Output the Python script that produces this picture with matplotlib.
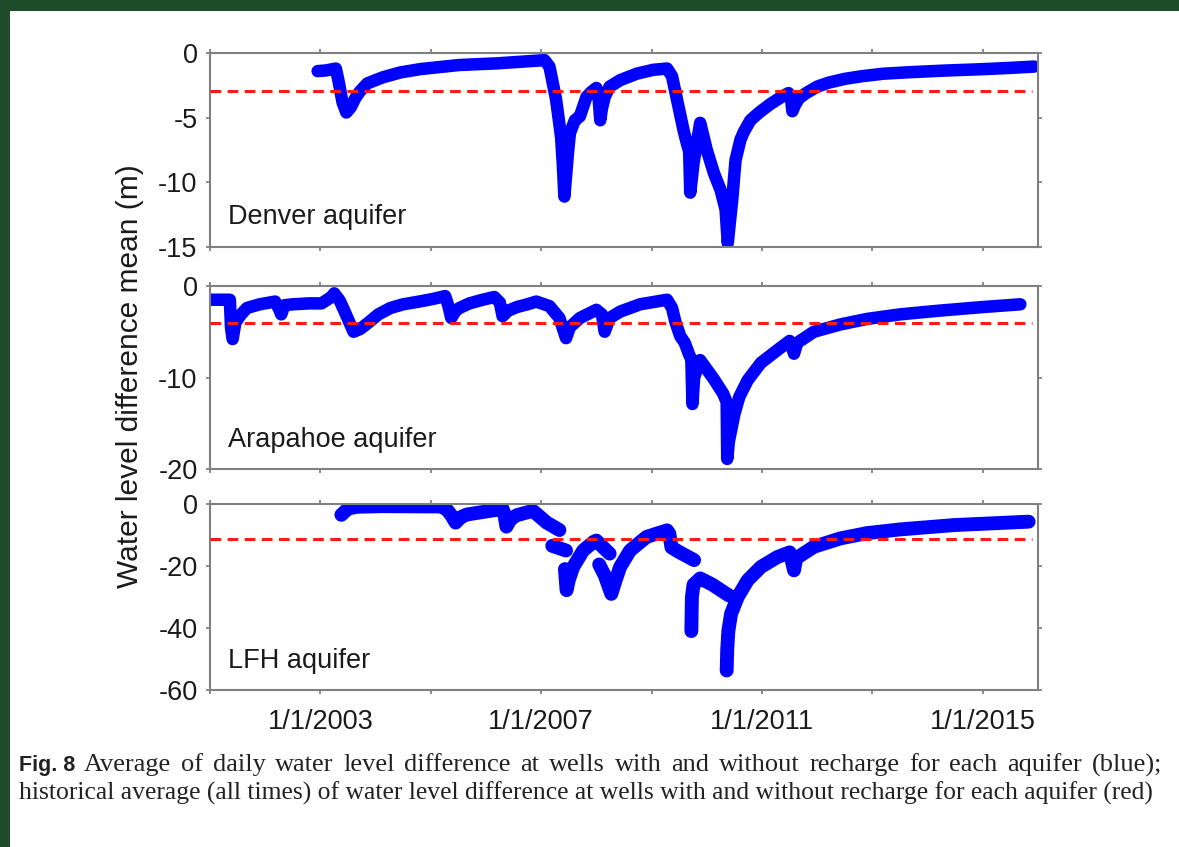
import matplotlib
matplotlib.use("Agg")
import matplotlib.pyplot as plt
import numpy as np
from matplotlib.patches import Rectangle

plt.rcParams["font.family"] = ["Liberation Sans", "DejaVu Sans"]
plt.rcParams["axes.unicode_minus"] = False

# Tiempo en años decimales, valores en metros
denver_t = [2002.95, 2003.1, 2003.28, 2003.33, 2003.4, 2003.47, 2003.55, 2003.63, 2003.71, 2003.85,
            2004.13, 2004.45, 2004.82, 2005.51, 2006.2, 2006.9, 2007.06, 2007.15, 2007.27, 2007.36,
            2007.39, 2007.42, 2007.46, 2007.49, 2007.52, 2007.61, 2007.7, 2007.76, 2007.82, 2007.91,
            2008.0, 2008.04, 2008.07, 2008.1, 2008.15, 2008.24, 2008.43, 2008.73, 2009.03, 2009.28,
            2009.37, 2009.46, 2009.58, 2009.64, 2009.68, 2009.7, 2009.76, 2009.88, 2010.0, 2010.13,
            2010.25, 2010.34, 2010.38, 2010.42, 2010.46, 2010.52, 2010.61, 2010.67, 2010.79, 2010.95,
            2011.15, 2011.37, 2011.48, 2011.52, 2011.55, 2011.6, 2011.67, 2011.8, 2012.0, 2012.2,
            2012.5, 2012.8, 2013.2, 2013.7, 2014.3, 2015.0, 2015.5, 2015.93]
denver_v = [-1.4, -1.35, -1.2, -2.2, -3.8, -4.6, -4.2, -3.5, -3.0, -2.35,
            -1.88, -1.5, -1.24, -0.93, -0.8, -0.6, -0.55, -1.06, -3.6, -6.5,
            -8.5, -11.1, -9.0, -7.5, -6.2, -5.2, -4.9, -4.15, -3.4, -3.0,
            -2.7, -3.5, -5.2, -4.3, -3.4, -2.6, -2.1, -1.6, -1.3, -1.2,
            -1.8, -3.6, -6.0, -7.0, -7.6, -10.8, -8.5, -5.4, -7.5, -9.3,
            -10.6, -12.1, -14.7, -13.0, -11.4, -8.3, -6.7, -6.1, -5.2, -4.6,
            -3.95, -3.35, -3.1, -3.3, -4.5, -4.0, -3.5, -3.1, -2.6, -2.3,
            -2.0, -1.8, -1.6, -1.48, -1.36, -1.25, -1.15, -1.05]
denver_media = -2.9

arapahoe_t = [2001.0, 2001.36, 2001.38, 2001.41, 2001.46, 2001.55, 2001.67, 2001.9, 2002.18, 2002.25,
              2002.29, 2002.35, 2002.5, 2002.8, 2003.02, 2003.2, 2003.25, 2003.35, 2003.44, 2003.6,
              2003.72, 2003.85, 2004.05, 2004.27, 2004.5, 2004.79, 2005.05, 2005.26, 2005.32, 2005.37,
              2005.45, 2005.52, 2005.7, 2005.94, 2006.15, 2006.25, 2006.3, 2006.4, 2006.56, 2006.75,
              2006.91, 2007.15, 2007.33, 2007.45, 2007.52, 2007.7, 2008.0, 2008.1, 2008.15, 2008.24,
              2008.43, 2008.79, 2009.28, 2009.37, 2009.43, 2009.52, 2009.6, 2009.68, 2009.72, 2009.74,
              2009.77, 2009.88, 2010.13, 2010.3, 2010.36, 2010.37, 2010.4, 2010.44, 2010.5, 2010.59,
              2010.74, 2010.98, 2011.28, 2011.5, 2011.55, 2011.58, 2011.64, 2011.94, 2012.42, 2012.9,
              2013.5, 2014.2, 2015.0, 2015.68]
arapahoe_v = [-1.5, -1.5, -4.5, -5.8, -4.0, -3.2, -2.4, -2.0, -1.7, -2.5,
              -3.1, -2.1, -2.0, -1.9, -1.9, -1.2, -0.8, -1.6, -2.8, -5.0,
              -4.7, -4.1, -3.1, -2.4, -2.0, -1.7, -1.4, -1.1, -2.2, -3.5,
              -2.7, -2.4, -1.9, -1.5, -1.2, -1.8, -3.3, -2.7, -2.3, -2.0,
              -1.7, -2.2, -3.5, -5.7, -4.5, -3.5, -2.6, -3.1, -5.0, -3.5,
              -2.8, -2.0, -1.5, -2.4, -3.9, -5.5, -6.2, -7.5, -8.0, -12.9,
              -10.0, -8.1, -10.2, -11.8, -12.7, -18.9, -17.0, -15.8, -14.0, -12.1,
              -10.3, -8.4, -7.0, -6.0, -6.8, -7.4, -6.2, -5.0, -4.2, -3.6,
              -3.1, -2.7, -2.3, -2.0]
arapahoe_media = -4.05

# NaN = hueco entre tramos de datos
lfh_t = [2003.38, 2003.5, 2003.65, 2004.1, 2005.2, 2005.3, 2005.37, 2005.45, 2005.55, 2005.65,
         2006.15, 2006.3, 2006.33, 2006.37, 2006.45, 2006.56, 2006.85, 2007.1, 2007.33, np.nan,
         2007.2, 2007.45, np.nan,
         2007.43, 2007.46, 2007.5, 2007.58, 2007.76, 2007.95, 2008.0, 2008.1, 2008.24, np.nan,
         2008.05, 2008.15, 2008.27, 2008.35, 2008.43, 2008.61, 2008.91, 2009.28, 2009.32, 2009.36,
         2009.5, 2009.77, np.nan,
         2009.72, 2009.73, 2009.76, 2009.88, 2010.1, 2010.4, np.nan,
         2010.36, 2010.37, 2010.39, 2010.44, 2010.56, 2010.74, 2010.98, 2011.28, 2011.5, 2011.55,
         2011.58, 2011.62, 2011.94, 2012.42, 2012.9, 2013.5, 2014.48, 2015.83]
lfh_v = [-3.5, -1.5, -0.9, -0.7, -0.8, -2.0, -3.6, -6.0, -4.2, -3.4,
         -2.0, -1.5, -3.0, -7.3, -4.8, -3.6, -2.2, -6.0, -8.4, np.nan,
         -13.5, -15.0, np.nan,
         -21.0, -27.8, -24.5, -20.3, -15.0, -12.2, -11.8, -13.6, -16.0, np.nan,
         -19.5, -23.0, -29.0, -24.5, -20.3, -15.0, -10.6, -8.5, -9.5, -14.0,
         -15.5, -18.1, np.nan,
         -41.0, -30.0, -26.0, -24.0, -26.0, -29.5, np.nan,
         -53.7, -47.0, -41.0, -35.4, -30.0, -24.6, -20.3, -17.1, -15.6, -19.0,
         -21.4, -17.5, -13.8, -11.1, -9.4, -8.2, -6.8, -5.7]
lfh_media = -11.4

media_t = [2001.0, 2015.9]

paneles = ["Denver aquifer", "Arapahoe aquifer", "LFH aquifer"]
y_limites = [(-15, 0), (-20, 0), (-60, 0)]
y_ticks = [[0, -5, -10, -15], [0, -10, -20], [0, -20, -40, -60]]

x_ticks = [2001, 2003, 2005, 2007, 2009, 2011, 2013, 2015]
x_etiquetas = ["", "1/1/2003", "", "1/1/2007", "", "1/1/2011", "", "1/1/2015"]

etiqueta_y = "Water level difference mean (m)"
pie_fig = "Fig. 8"
pie_1 = "Average of daily water level difference at wells with and without recharge for each aquifer (blue);"
pie_2 = "historical average (all times) of water level difference at wells with and without recharge for each aquifer (red)"

W, H = 1179, 847


def ajustar_ancho(fig, txt, ancho_px):
    """Escala el tamaño de letra para que el texto ocupe ancho_px."""
    r = fig.canvas.get_renderer()
    w = txt.get_window_extent(r).width
    txt.set_fontsize(txt.get_fontsize() * ancho_px / w)
    return txt.get_fontsize()


def texto_justificado(fig, texto, x0, x1, y, **kw):
    """Reparte las palabras entre x0 y x1 (píxeles)."""
    palabras = texto.split()
    objs = [fig.text(0, y, p, ha="left", va="center", **kw) for p in palabras]
    r = fig.canvas.get_renderer()
    anchos = [o.get_window_extent(r).width for o in objs]
    hueco = (x1 - x0 - sum(anchos)) / (len(palabras) - 1)
    x = x0
    for o, a in zip(objs, anchos):
        o.set_x(x / W)
        x += a + hueco


fig = plt.figure(figsize=(W / 100, H / 100), dpi=100)
fig.patch.set_facecolor("white")

# marco verde
verde = "#1e4b2a"
fig.patches.append(Rectangle((0, 1 - 11 / H), 1, 11 / H, transform=fig.transFigure,
                             facecolor=verde, edgecolor="none", zorder=0))
fig.patches.append(Rectangle((0, 0), 10 / W, 1, transform=fig.transFigure,
                             facecolor=verde, edgecolor="none", zorder=0))

# (arriba, abajo) de cada panel en píxeles
cajas = [(53, 247), (286, 469), (504, 690)]
izq, der = 210, 1038

series = [(denver_t, denver_v, denver_media, 9),
          (arapahoe_t, arapahoe_v, arapahoe_media, 9),
          (lfh_t, lfh_v, lfh_media, 10)]

for i, ((t, v, media, lw), (top, bot)) in enumerate(zip(series, cajas)):
    ax = fig.add_axes([izq / W, 1 - bot / H, (der - izq) / W, (bot - top) / H])
    ax.plot(t, v, color="#0000ff", lw=lw, solid_capstyle="round", solid_joinstyle="round", zorder=2)
    ax.plot(media_t, [media, media], color="#ff1a1a", lw=2.2, dashes=(3.5, 2.1), zorder=3)
    ax.set_xlim(2001, 2016)
    ax.set_ylim(*y_limites[i])
    ax.set_yticks(y_ticks[i])
    ax.set_xticks(x_ticks)
    if i == 2:
        ax.set_xticklabels(x_etiquetas)
    else:
        ax.set_xticklabels([])
    ax.tick_params(direction="out", length=3, width=1.2, color="#777777",
                   top=True, right=True, labelsize=19.5, labelcolor="#1a1a1a")
    ax.tick_params(axis="x", pad=11)
    ax.tick_params(axis="y", pad=6)
    for s in ax.spines.values():
        s.set_color("#808080")
        s.set_linewidth(1.5)
    ax.text(0.022, 0.12, paneles[i], transform=ax.transAxes, fontsize=19.5,
            color="#1a1a1a", ha="left", va="baseline")

fig.text(130 / W, 1 - 376 / H, etiqueta_y, rotation=90, fontsize=21.5,
         color="#1a1a1a", ha="center", va="center")

# pie de figura
fig.text(19 / W, 1 - 765 / H, pie_fig, fontsize=15.5, fontweight="bold",
         color="#222222", ha="left", va="center")
t2 = fig.text(19 / W, 1 - 793 / H, pie_2, fontsize=16, family="Liberation Serif",
              color="#222222", ha="left", va="center")
tam = ajustar_ancho(fig, t2, 1157 - 19)
texto_justificado(fig, pie_1, 84, 1162, 1 - 765 / H, fontsize=tam * 1.03,
                  family="Liberation Serif", color="#222222")

fig.savefig("out.png", dpi=100)
plt.close(fig)
